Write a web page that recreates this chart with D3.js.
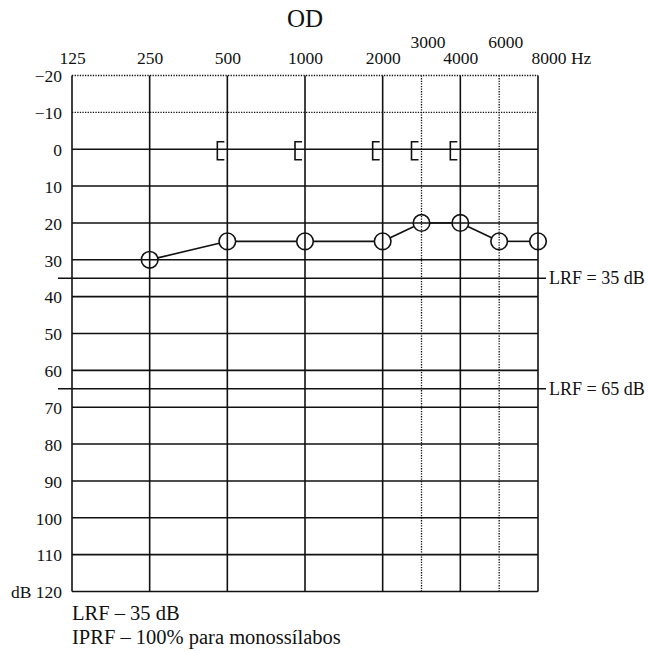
<!DOCTYPE html>
<html>
<head>
<meta charset="utf-8">
<script src="https://cdn.jsdelivr.net/npm/d3@7"></script>
<style>
body { margin: 0; background: #fff; }
</style>
</head>
<body>
<div id="app"></div>
<script>
// chart data
const title = "OD";
const octaveFreqs = [125, 250, 500, 1000, 2000, 4000, 8000];
const halfOctaveFreqs = [3000, 6000];
const freqTicks = [125, 250, 500, 1000, 2000, 3000, 4000, 6000, 8000];
const freqTickLabels = ["125", "250", "500", "1000", "2000", "3000", "4000", "6000", "8000 Hz"];
const dbTicks = [-20, -10, 0, 10, 20, 30, 40, 50, 60, 70, 80, 90, 100, 110, 120];
const dbTickLabels = ["\u221220", "\u221210", "0", "10", "20", "30", "40", "50", "60", "70", "80", "90", "100", "110", "dB 120"];

const airFreqs = [250, 500, 1000, 2000, 3000, 4000, 6000, 8000];
const airDb = [30, 25, 25, 25, 20, 20, 25, 25];
const boneFreqs = [500, 1000, 2000, 3000, 4000];
const boneDb = [0, 0, 0, 0, 0];

const lrfLevels = [35, 65];
const lrfLabels = ["LRF = 35 dB", "LRF = 65 dB"];
const notes = ["LRF \u2013 35 dB", "IPRF \u2013 100% para monossílabos"];

const W = 648;
const H = 651;
const plotLeft = 72;
const plotRight = 538;
const plotTop = 75.5;
const plotBottom = 591.5;
const ink = "#111";
const font = "'Liberation Serif', 'Times New Roman', serif";
const circleR = 8.3;

// octave positions are evenly spaced, half octaves sit midway
const x = d3.scaleLinear()
    .domain(octaveFreqs)
    .range(octaveFreqs.map(function (f, i) {
        return plotLeft + i * (plotRight - plotLeft) / (octaveFreqs.length - 1);
    }));
const y = d3.scaleLinear().domain([-20, 120]).range([plotTop, plotBottom]);

const svg = d3.select("#app")
    .append("svg")
    .attr("width", W)
    .attr("height", H)
    .style("display", "block");

//TITLE
svg.append("text")
    .attr("x", (plotLeft + plotRight) / 2)
    .attr("y", 27)
    .attr("text-anchor", "middle")
    .style("font-family", font)
    .style("font-size", "25px")
    .style("fill", ink)
    .text(title);

//HORIZONTAL GRID
svg.append("g")
    .selectAll("line")
    .data(dbTicks)
    .enter()
    .append("line")
    .attr("x1", plotLeft)
    .attr("x2", plotRight)
    .attr("y1", function (d) { return y(d); })
    .attr("y2", function (d) { return y(d); })
    .style("stroke", ink)
    .style("stroke-width", function (d) { return d < 0 ? 1.3 : 1.6; })
    .style("stroke-dasharray", function (d) { return d < 0 ? "1.3,1.3" : null; });

//VERTICAL GRID
svg.append("g")
    .selectAll("line")
    .data(octaveFreqs)
    .enter()
    .append("line")
    .attr("x1", function (f) { return x(f); })
    .attr("x2", function (f) { return x(f); })
    .attr("y1", y(-20))
    .attr("y2", y(120))
    .style("stroke", ink)
    .style("stroke-width", 1.6);

svg.append("g")
    .selectAll("line")
    .data(halfOctaveFreqs)
    .enter()
    .append("line")
    .attr("x1", function (f) { return x(f); })
    .attr("x2", function (f) { return x(f); })
    .attr("y1", y(-20))
    .attr("y2", y(120))
    .style("stroke", ink)
    .style("stroke-width", 1.3)
    .style("stroke-dasharray", "1.3,1.3");

//LRF LINES
lrfLevels.forEach(function (lvl, i) {
    svg.append("line")
        .attr("x1", plotLeft - 14)
        .attr("x2", plotRight + 8)
        .attr("y1", y(lvl))
        .attr("y2", y(lvl))
        .style("stroke", ink)
        .style("stroke-width", 1.6);
    svg.append("text")
        .attr("x", plotRight + 11)
        .attr("y", y(lvl))
        .attr("dy", "0.33em")
        .style("font-family", font)
        .style("font-size", "18px")
        .style("fill", ink)
        .text(lrfLabels[i]);
});

//AXES
const yAxis = svg.append("g")
    .attr("transform", "translate(" + plotLeft + ",0)")
    .call(d3.axisLeft(y)
        .tickValues(dbTicks)
        .tickSize(0)
        .tickPadding(10)
        .tickFormat(function (d, i) { return dbTickLabels[i]; }));
yAxis.select(".domain").remove();
yAxis.selectAll("text")
    .attr("dy", "0.36em")
    .style("font-family", font)
    .style("font-size", "17.5px")
    .style("fill", ink);

const xAxis = svg.append("g")
    .attr("transform", "translate(0," + plotTop + ")")
    .call(d3.axisTop(x)
        .tickValues(freqTicks)
        .tickSize(0)
        .tickPadding(11.5)
        .tickFormat(function (d, i) { return freqTickLabels[i]; }));
xAxis.select(".domain").remove();
xAxis.selectAll("text")
    .style("font-family", font)
    .style("font-size", "17.5px")
    .style("fill", ink)
    .attr("y", function (d) { return halfOctaveFreqs.indexOf(d) >= 0 ? -28 : -11.5; })
    .attr("dx", function (d) { return halfOctaveFreqs.indexOf(d) >= 0 ? 6 : 0; });
xAxis.selectAll("text")
    .filter(function (d) { return d === 8000; })
    .attr("text-anchor", "start")
    .attr("dx", -7);

//BONE CONDUCTION (masked)
svg.append("g")
    .selectAll("path")
    .data(boneFreqs)
    .enter()
    .append("path")
    .attr("d", function (f, i) {
        const bx = x(f);
        const by = y(boneDb[i]) + 1.5;
        return "M" + (bx - 3) + "," + (by - 9) + "H" + (bx - 10) + "V" + (by + 9) + "H" + (bx - 3);
    })
    .style("fill", "none")
    .style("stroke", ink)
    .style("stroke-width", 1.6);

//AIR CONDUCTION
const pts = airFreqs.map(function (f, i) { return [x(f), y(airDb[i])]; });
const segs = d3.pairs(pts);
svg.append("g")
    .selectAll("line")
    .data(segs)
    .enter()
    .append("line")
    .each(function (s) {
        const dx = s[1][0] - s[0][0];
        const dy = s[1][1] - s[0][1];
        const len = Math.sqrt(dx * dx + dy * dy);
        const ux = dx / len;
        const uy = dy / len;
        d3.select(this)
            .attr("x1", s[0][0] + ux * circleR)
            .attr("y1", s[0][1] + uy * circleR)
            .attr("x2", s[1][0] - ux * circleR)
            .attr("y2", s[1][1] - uy * circleR);
    })
    .style("stroke", ink)
    .style("stroke-width", 1.6);

svg.append("g")
    .selectAll("circle")
    .data(pts)
    .enter()
    .append("circle")
    .attr("cx", function (p) { return p[0]; })
    .attr("cy", function (p) { return p[1]; })
    .attr("r", circleR)
    .style("fill", "none")
    .style("stroke", ink)
    .style("stroke-width", 1.6);

//NOTES
svg.append("g")
    .selectAll("text")
    .data(notes)
    .enter()
    .append("text")
    .attr("x", plotLeft)
    .attr("y", function (d, i) { return 620 + i * 23.5; })
    .style("font-family", font)
    .style("font-size", "20.5px")
    .style("fill", ink)
    .text(function (d) { return d; });
</script>
</body>
</html>
